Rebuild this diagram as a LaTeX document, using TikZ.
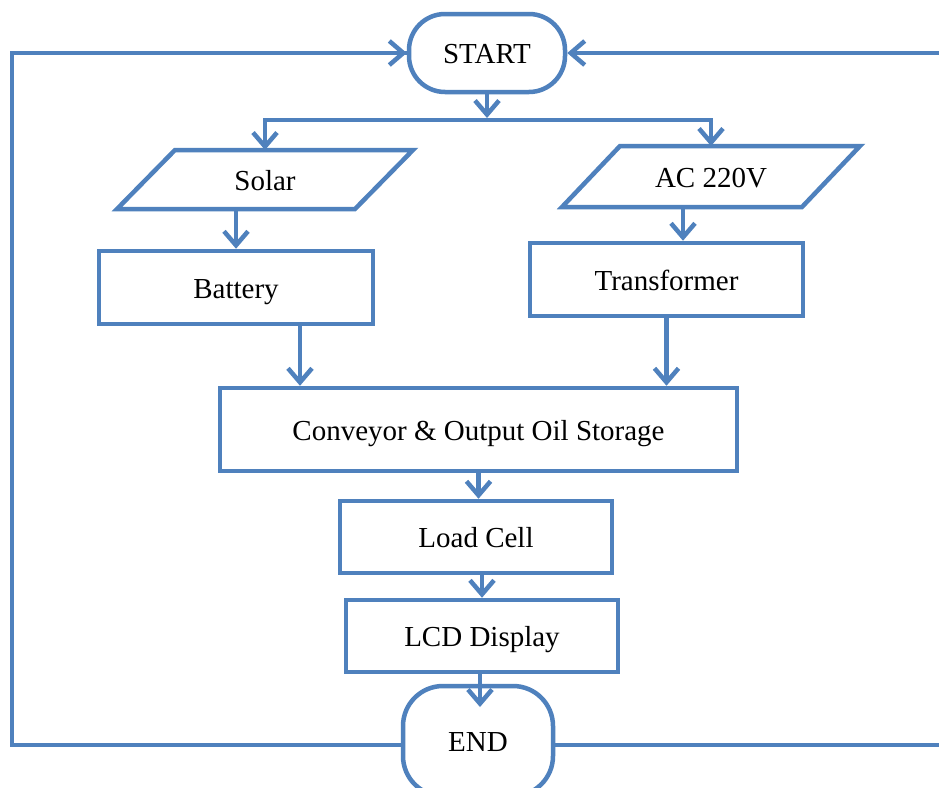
\documentclass[tikz,border=0pt]{standalone}
\usepackage{fontspec}
\setmainfont{Liberation Serif}
\usetikzlibrary{arrows.meta}
\definecolor{fcblue}{RGB}{79,129,189}
\tikzset{
  box/.style={draw=fcblue, line width=4.5pt, fill=white, inner sep=0pt, text height=22pt, text depth=1pt,
    font=\fontsize{29}{34}\selectfont},
  term/.style={box, rounded corners=36pt},
  para/.style={inner sep=0pt, outer sep=0pt, text height=22pt, text depth=1pt,
    font=\fontsize{29}{34}\selectfont},
  paraline/.style={draw=fcblue, line width=4.5pt, line join=miter},
  arr/.style={draw=fcblue, line width=4.5pt, -{Straight Barb[length=14pt,width=24pt]}},
  ln/.style={draw=fcblue, line width=4.5pt}
}
\begin{document}
\begin{tikzpicture}[x=1pt,y=-1pt]
\clip (0,0) rectangle (939,787);
\fill[white] (0,0) rectangle (939,787);

\node[term, minimum width=156pt, minimum height=78pt] (start) at (487,53) {START};

% parallelograms
\node[para, minimum width=238pt, minimum height=59pt] (sol) at (265,179.5) {};
\draw[paraline] ([xshift=29pt]sol.north west) -- ([xshift=29pt]sol.north east) -- ([xshift=-29pt]sol.south east) -- ([xshift=-29pt]sol.south west) -- cycle;
\node[para] at (sol) {Solar};
\node[para, minimum width=240pt, minimum height=61pt] (ac) at (711,176.5) {};
\draw[paraline] ([xshift=29pt]ac.north west) -- ([xshift=29pt]ac.north east) -- ([xshift=-29pt]ac.south east) -- ([xshift=-29pt]ac.south west) -- cycle;
\node[para] at (ac) {AC 220V};

\node[box, minimum width=274pt, minimum height=73pt] (bat) at (236,287.5) {Battery};
\node[box, minimum width=273pt, minimum height=73pt] (tr) at (666.5,279.5) {Transformer};
\node[box, minimum width=517pt, minimum height=83pt] (conv) at (478.5,429.5) {Conveyor \& Output Oil Storage};
\node[box, minimum width=272pt, minimum height=72pt] (load) at (476,537) {Load Cell};
\node[box, minimum width=272pt, minimum height=72pt] (lcd) at (482,636) {LCD Display};
\node[term, rounded corners=40pt, minimum width=150pt, minimum height=110pt] (end) at (478,741) {END};

% branch from START
\coordinate (br) at (487,120);
\draw[arr] (start.south) -- ([yshift=2pt]br);
\draw[arr] (br) -| (sol.north);
\draw[arr] (br) -| (ac.north);

% inputs to converters
\draw[arr] (sol.south -| bat.north) -- (bat.north);
\draw[arr] ([xshift=-28pt]ac.south) -- ([xshift=16.5pt]tr.north);

% to conveyor
\draw[arr] ([xshift=64pt]bat.south) -- ([xshift=64pt]bat.south |- conv.north);
\draw[arr] (tr.south) -- (tr.south |- conv.north);

% chain down
\draw[arr] (conv.south) -- (conv.south |- load.north);
\draw[arr] (lcd.north |- load.south) -- (lcd.north);
\coordinate (endtip) at (480,707);
\draw[arr] (lcd.south -| endtip) -- (endtip);

% loops back to START
\coordinate (lb) at (12,745);
\coordinate (lt) at (12,53);
\coordinate (rb) at (960,745);
\coordinate (rt) at (960,53);
\draw[ln] ([yshift=-4pt]end.west) -- (lb) -- (lt) -- (start.west |- lt);
\draw[arr] (lt) -- (start.west);
\draw[ln] ([yshift=-4pt]end.east) -- (rb) -- (rt);
\draw[arr] (rt) -- (start.east);
\end{tikzpicture}
\end{document}
